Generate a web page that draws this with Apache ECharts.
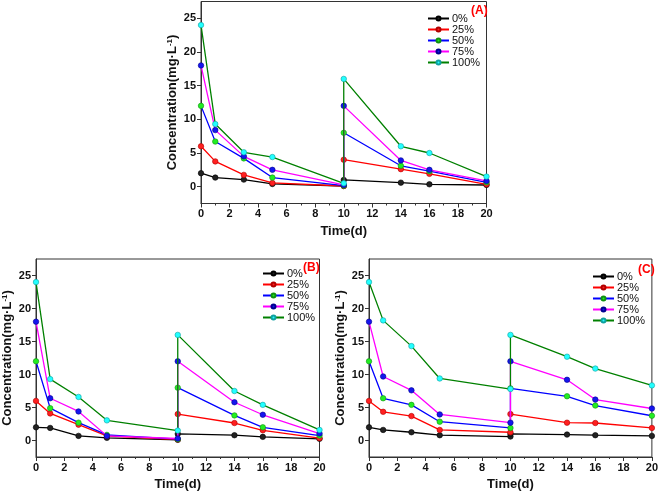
<!DOCTYPE html>
<html>
<head>
<meta charset="utf-8">
<script src="https://cdn.jsdelivr.net/npm/echarts@6/dist/echarts.min.js"></script>
<style>
html,body{margin:0;padding:0;background:#fff;}
#chart{width:661px;height:492px;}
</style>
</head>
<body>
<div id="chart"></div>
<script>
// Time (d); the value at day 10 appears twice (before and after re-dosing)
var timeVals = [0, 1, 3, 5, 10, 10, 14, 16, 20];
var seriesNames = ['0%', '25%', '50%', '75%', '100%'];
var xTicks = [0, 2, 4, 6, 8, 10, 12, 14, 16, 18, 20];
var yTicks = [0, 5, 10, 15, 20, 25];
var panelLabels = ['(A)', '(B)', '(C)'];

// Panel A
var a0   = [2.0, 1.35, 1.05, 0.4, 0.1, 1.0, 0.6, 0.35, 0.25];
var a25  = [6.0, 3.75, 1.75, 0.55, 0.1, 4.0, 2.6, 1.9, 0.35];
var a50  = [12.0, 6.7, 4.2, 1.35, 0.15, 8.0, 3.1, 2.3, 0.65];
var a75  = [18.0, 8.4, 4.5, 2.5, 0.25, 12.0, 3.9, 2.5, 0.85];
var a100 = [24.0, 9.3, 5.1, 4.4, 0.5, 16.0, 6.0, 5.0, 1.5];
// Panel B
var b0   = [2.0, 1.9, 0.7, 0.4, 0.1, 1.0, 0.8, 0.55, 0.25];
var b25  = [6.0, 4.1, 2.4, 0.7, 0.15, 4.0, 2.65, 1.55, 0.35];
var b50  = [12.0, 4.9, 2.7, 0.85, 0.2, 8.0, 3.8, 2.0, 0.75];
var b75  = [18.0, 6.4, 4.4, 0.7, 0.3, 12.0, 5.8, 3.9, 1.05];
var b100 = [24.0, 9.3, 6.6, 3.05, 1.5, 16.0, 7.5, 5.4, 1.6];
// Panel C
var c0   = [2.0, 1.6, 1.25, 0.8, 0.6, 1.0, 0.9, 0.8, 0.7];
var c25  = [6.0, 4.35, 3.7, 1.6, 1.25, 4.0, 2.7, 2.65, 1.9];
var c50  = [12.0, 6.4, 5.4, 2.85, 1.9, 7.9, 6.7, 5.3, 3.75];
var c75  = [18.0, 9.7, 7.6, 3.95, 2.7, 12.0, 9.2, 6.2, 4.85];
var c100 = [24.0, 18.2, 14.3, 9.4, 7.8, 16.0, 12.7, 10.9, 8.35];

var panels = [[a0, a25, a50, a75, a100], [b0, b25, b50, b75, b100], [c0, c25, c50, c75, c100]];

var lineColors = ['#000000', '#ff0000', '#0000ff', '#ff00ff', '#008000'];
var markColors = ['#222222', '#ff2020', '#22ee22', '#1515ee', '#22ffff'];
var markBorders = ['#000000', '#b00000', '#109010', '#000090', '#10a0a0'];

var grids = [
  {left: 201, top: 1.5, width: 285.5, height: 202},
  {left: 34, top: 259, width: 285.5, height: 202},
  {left: 369, top: 259, width: 286, height: 202}
];
var legendPos = [
  {left: 422, top: 8},
  {left: 257, top: 263},
  {left: 587, top: 266}
];
var labelPos = [[471, 5], [303, 262], [638, 264]];

var font = 'Liberation Sans, Arial, sans-serif';

var option = {
  animation: false,
  backgroundColor: '#fff',
  grid: grids.map(function (g) {
    return Object.assign({show: true, borderColor: '#333', borderWidth: 1, backgroundColor: 'transparent'}, g);
  }),
  xAxis: grids.map(function (g, i) {
    return {
      type: 'value', gridIndex: i, min: 0, max: 20, interval: 2,
      name: 'Time(d)', nameLocation: 'middle', nameGap: 21,
      nameTextStyle: {fontFamily: font, fontWeight: 'bold', fontSize: 13, color: '#111'},
      axisLine: {show: true, onZero: false, lineStyle: {color: '#333', width: 1}},
      axisTick: {show: true, length: 4, lineStyle: {color: '#333'}},
      minorTick: {show: true, splitNumber: 2, length: 2, lineStyle: {color: '#333'}},
      axisLabel: {fontFamily: font, fontWeight: 'bold', fontSize: 11, color: '#111', margin: 5,
        customValues: xTicks},
      splitLine: {show: false}
    };
  }),
  yAxis: grids.map(function (g, i) {
    return {
      type: 'value', gridIndex: i, min: -2.5, max: 27.5,
      name: 'Concentration(mg·L{sup|-1})', nameLocation: 'middle', nameGap: 22,
      nameTextStyle: {fontFamily: font, fontWeight: 'bold', fontSize: 13, color: '#111',
        rich: {sup: {fontFamily: font, fontWeight: 'bold', fontSize: 8, verticalAlign: 'top', color: '#111'}}},
      axisLine: {show: true, onZero: false, lineStyle: {color: '#333', width: 1}},
      axisTick: {show: true, length: 4, lineStyle: {color: '#333'}, customValues: yTicks},
      axisLabel: {fontFamily: font, fontWeight: 'bold', fontSize: 11, color: '#111', margin: 5,
        customValues: yTicks},
      splitLine: {show: false}
    };
  }),
  legend: legendPos.map(function (p) {
    return {
      left: p.left, top: p.top, orient: 'vertical', itemGap: 0,
      itemWidth: 21, itemHeight: 5, selectedMode: false,
      textStyle: {fontFamily: font, fontSize: 11, color: '#111', lineHeight: 11, padding: [0, 0, 0, -2]},
      data: seriesNames
    };
  }),
  graphic: labelPos.map(function (p, i) {
    return {type: 'text', left: p[0], top: p[1],
      style: {text: panelLabels[i], fill: '#ff0000', font: 'bold 12px ' + font}};
  }),
  series: []
};

panels.forEach(function (panel, pi) {
  panel.forEach(function (vals, si) {
    option.series.push({
      type: 'line', name: seriesNames[si], xAxisIndex: pi, yAxisIndex: pi,
      data: vals.map(function (v, k) { return [timeVals[k], v]; }),
      symbol: 'circle', symbolSize: 5.5,
      lineStyle: {color: lineColors[si], width: 1.3},
      itemStyle: {color: markColors[si], borderColor: markBorders[si], borderWidth: 0.6},
      z: 2 + si
    });
  });
});

var chart = echarts.init(document.getElementById('chart'), null, {renderer: 'canvas'});
chart.setOption(option);
</script>
</body>
</html>
